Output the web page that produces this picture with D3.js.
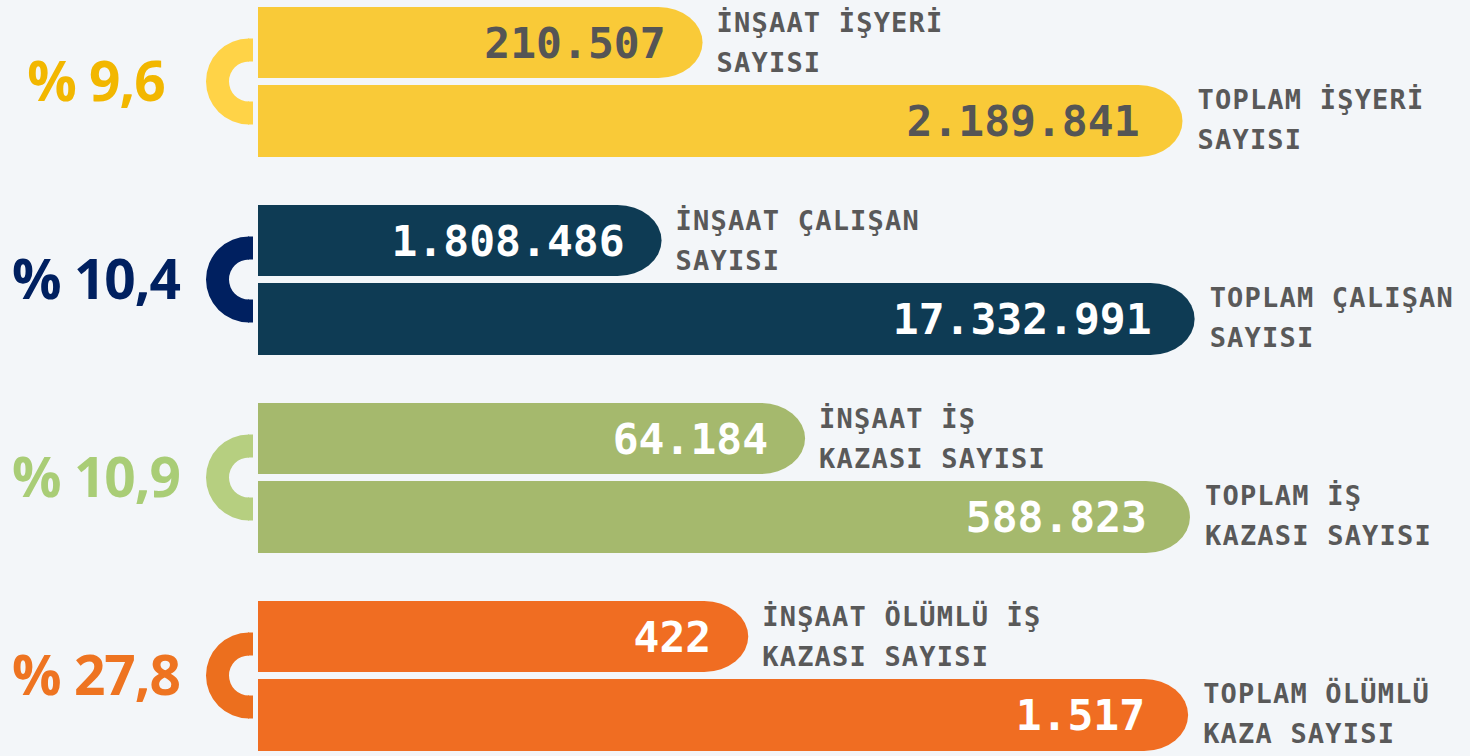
<!DOCTYPE html>
<html>
<head>
<meta charset="utf-8">
<script src="https://cdn.jsdelivr.net/npm/d3@7"></script>
<style>
  html, body { margin: 0; padding: 0; background: #f3f6f9; }
  svg { display: block; }
</style>
</head>
<body>
<script>
// oranlar (inşaat / toplam)
var shares = ["% 9,6", "% 10,4", "% 10,9", "% 27,8"];
var insaatValues = ["210.507", "1.808.486", "64.184", "422"];
var toplamValues = ["2.189.841", "17.332.991", "588.823", "1.517"];
var insaatLabels = [["İNŞAAT İŞYERİ", "SAYISI"], ["İNŞAAT ÇALIŞAN", "SAYISI"], ["İNŞAAT İŞ", "KAZASI SAYISI"], ["İNŞAAT ÖLÜMLÜ İŞ", "KAZASI SAYISI"]];
var toplamLabels = [["TOPLAM İŞYERİ", "SAYISI"], ["TOPLAM ÇALIŞAN", "SAYISI"], ["TOPLAM İŞ", "KAZASI SAYISI"], ["TOPLAM ÖLÜMLÜ", "KAZA SAYISI"]];
// bar lengths in the infographic (relative, not proportional to values)
var insaatLength = [47.7, 43.3, 58.7, 52.6];
var toplamLength = [99.2, 100.5, 100, 99.8];

var barColors = ["#f9ca38", "#0e3b54", "#a5b96d", "#f06d22"];
var ringColors = ["#ffd347", "#002060", "#b6cf80", "#ec6f1e"];
var shareColors = ["#f2b700", "#002060", "#a9cd76", "#ee7421"];
var valueColors = ["#555555", "#ffffff", "#ffffff", "#ffffff"];

var width = 1470, height = 756;
var barH = 71, gap = 7;

var svg = d3.select("body").append("svg")
    .attr("width", width)
    .attr("height", height);

var x = d3.scaleLinear().domain([0, 100]).range([258, 1190]);
var y = d3.scaleLinear().domain([0, 3]).range([7, 601]);

// bar with a rounded right end
function capBar(x0, x1, y0, h) {
    var rx = 44, ry = h / 2;
    return "M" + x0 + "," + y0 +
        "H" + (x1 - rx) +
        "A" + rx + "," + ry + " 0 0 1 " + (x1 - rx) + "," + (y0 + h) +
        "H" + x0 + "Z";
}

var ring = d3.arc().innerRadius(20).outerRadius(43)
    .startAngle(Math.PI).endAngle(2 * Math.PI);

var groups = svg.selectAll("g.grp")
    .data(d3.range(shares.length))
    .enter().append("g")
    .attr("class", "grp")
    .attr("transform", i => `translate(0, ${y(i)})`);

// inşaat bar
groups.append("path")
    .attr("d", i => capBar(x(0), x(insaatLength[i]), 0, barH))
    .attr("fill", i => barColors[i]);

// toplam bar
groups.append("path")
    .attr("d", i => capBar(x(0), x(toplamLength[i]), barH + gap, barH + 1))
    .attr("fill", i => barColors[i]);

// half ring
var cy = barH + gap / 2;
groups.append("path")
    .attr("transform", `translate(249, ${cy})`)
    .attr("d", ring())
    .attr("fill", i => ringColors[i]);
groups.append("rect")
    .attr("x", 248).attr("y", cy - 43).attr("width", 5).attr("height", 23)
    .attr("fill", i => ringColors[i]);
groups.append("rect")
    .attr("x", 248).attr("y", cy + 20).attr("width", 5).attr("height", 23)
    .attr("fill", i => ringColors[i]);

// percent text
groups.append("text")
    .attr("x", 96)
    .attr("y", cy)
    .attr("dy", "0.36em")
    .attr("text-anchor", "middle")
    .style("font-family", "'Open Sans', Lato, sans-serif")
    .style("font-weight", "bold")
    .style("font-size", "55px")
    .style("letter-spacing", "-1px")
    .attr("fill", i => shareColors[i])
    .text(i => shares[i]);

// values
var valueFont = "'DejaVu Sans Mono', 'Liberation Mono', monospace";
groups.append("text")
    .attr("x", i => x(insaatLength[i]) - 37)
    .attr("y", barH / 2)
    .attr("dy", "0.36em")
    .attr("text-anchor", "end")
    .style("font-family", valueFont)
    .style("font-weight", "bold")
    .style("font-size", "43px")
    .attr("fill", i => valueColors[i])
    .text(i => insaatValues[i]);

groups.append("text")
    .attr("x", i => x(toplamLength[i]) - 43)
    .attr("y", barH + gap + barH / 2)
    .attr("dy", "0.36em")
    .attr("text-anchor", "end")
    .style("font-family", valueFont)
    .style("font-weight", "bold")
    .style("font-size", "43px")
    .attr("fill", i => valueColors[i])
    .text(i => toplamValues[i]);

// labels
function addLabel(sel, xf, y0, lines) {
    var t = sel.append("text")
        .attr("x", xf)
        .attr("y", y0)
        .style("font-family", valueFont)
        .style("font-weight", "bold")
        .style("font-size", "27px")
        .style("letter-spacing", "1.2px")
        .attr("fill", "#595959");
    t.selectAll("tspan")
        .data(i => lines[i])
        .enter().append("tspan")
        .attr("x", function () { return d3.select(this.parentNode).attr("x"); })
        .attr("dy", (d, j) => j === 0 ? 0 : 40)
        .text(d => d);
}
addLabel(groups, i => x(insaatLength[i]) + 14, 25, insaatLabels);
addLabel(groups, i => x(toplamLength[i]) + 15, barH + gap + 24, toplamLabels);
</script>
</body>
</html>
